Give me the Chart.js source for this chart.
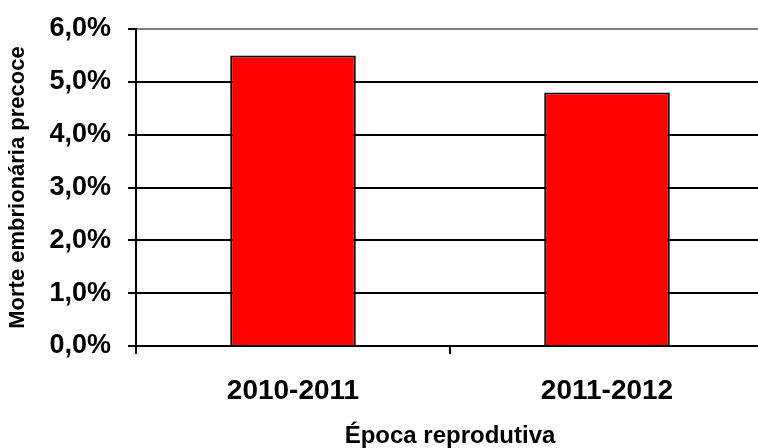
<!DOCTYPE html>
<html>
<head>
<meta charset="utf-8">
<script src="https://cdn.jsdelivr.net/npm/chart.js@4"></script>
<style>
  html, body { margin: 0; padding: 0; background: #fff; overflow: hidden; }
  #wrap { width: 764px; height: 448px; }
</style>
</head>
<body>
<div id="wrap"><canvas id="myChart"></canvas></div>
<script>
var epocas = ['2010-2011', '2011-2012'];
var morte = [5.5, 4.8];
var yMax = 6;

var fonte = 'Arial, "Liberation Sans", sans-serif';

const ctx = document.getElementById('myChart');

new Chart(ctx, {
  type: 'bar',
  data: {
    labels: epocas,
    datasets: [{
      label: 'Morte embrionária precoce',
      data: morte,
      backgroundColor: '#FF0000',
      borderColor: '#000000',
      borderWidth: 2,
      categoryPercentage: 1,
      barPercentage: 0.4
    }]
  },
  options: {
    responsive: true,
    maintainAspectRatio: false,
    animation: false,
    layout: { padding: { top: 29, left: 0, right: 0, bottom: 0 } },
    plugins: {
      legend: { display: false },
      tooltip: { enabled: false }
    },
    scales: {
      x: {
        offset: true,
        border: { display: true, color: '#000', width: 2 },
        grid: {
          offset: true,
          drawOnChartArea: false,
          drawTicks: true,
          tickLength: 8,
          color: '#000',
          lineWidth: 2
        },
        ticks: {
          color: '#000',
          padding: 20,
          maxRotation: 0,
          font: { family: fonte, size: 28, weight: 'bold' }
        },
        title: {
          display: true,
          text: 'Época reprodutiva',
          color: '#000',
          padding: 0,
          font: { family: fonte, size: 24, weight: 'bold', lineHeight: 1 }
        },
        afterFit: function (scale) { scale.height = 102; }
      },
      y: {
        min: 0,
        max: yMax,
        border: { display: true, color: '#000', width: 2 },
        grid: {
          color: function (c) { return c.tick && c.tick.value === yMax ? '#808080' : '#000'; },
          tickColor: '#000',
          lineWidth: 2,
          tickLength: 8
        },
        ticks: {
          stepSize: 1,
          color: '#000',
          padding: 17,
          font: { family: fonte, size: 27, weight: 'bold' },
          callback: function (v) { return v.toFixed(1).replace('.', ',') + '%'; }
        },
        title: {
          display: true,
          text: 'Morte embrionária precoce',
          color: '#000',
          padding: { top: 5, bottom: 0 },
          font: { family: fonte, size: 22, weight: 'bold' }
        },
        afterFit: function (scale) {
          scale.width = 136;
          scale.paddingTop = 0;
          scale.paddingBottom = 0;
        }
      }
    }
  }
});
</script>
</body>
</html>
